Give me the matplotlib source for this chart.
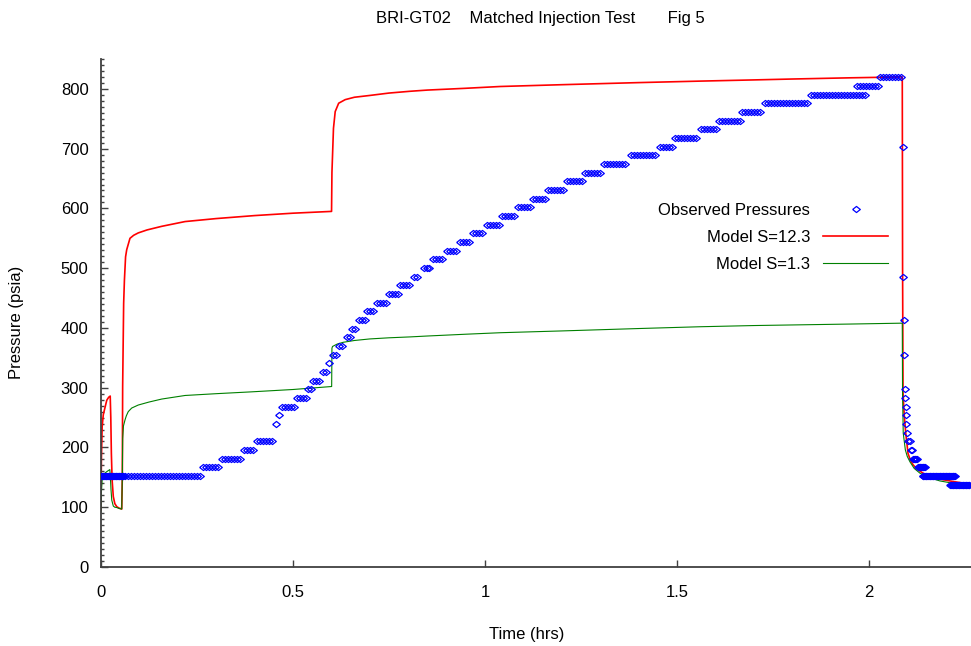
import numpy as np
import matplotlib
matplotlib.use("Agg")
import matplotlib.pyplot as plt
from matplotlib.ticker import MultipleLocator

plt.rcParams['font.family'] = ['Liberation Sans', 'DejaVu Sans']

# Observed gauge pressures come in 1-bar steps; each run is (level, start, end)
run_level = [152.3, 152.3, 166.8, 181.3, 195.8, 210.3, 239.3, 253.8, 268.3, 282.8,
             297.3, 311.8, 326.3, 340.8, 355.3, 369.8, 384.3, 398.8, 413.3, 427.8,
             442.3, 456.8, 471.3, 485.8, 500.3, 514.8, 529.3, 543.8, 558.3, 572.8,
             587.3, 601.8, 616.3, 630.8, 645.3, 659.8, 674.3, 688.8, 703.3, 717.8,
             732.3, 746.8, 761.3, 775.8, 790.3, 804.8, 819.3,
             181.3, 166.8, 152.3, 137.8]
run_start = [0.000, 0.062, 0.266, 0.315, 0.372, 0.406, 0.455, 0.464, 0.472, 0.510,
             0.538, 0.553, 0.578, 0.595, 0.603, 0.620, 0.640, 0.655, 0.673, 0.693,
             0.720, 0.750, 0.780, 0.815, 0.840, 0.865, 0.900, 0.935, 0.970, 1.005,
             1.045, 1.085, 1.125, 1.165, 1.215, 1.260, 1.310, 1.380, 1.455, 1.495,
             1.562, 1.610, 1.670, 1.730, 1.850, 1.970, 2.030,
             2.115, 2.128, 2.140, 2.212]
run_end = [0.058, 0.258, 0.310, 0.366, 0.400, 0.449, 0.455, 0.466, 0.505, 0.535,
           0.550, 0.575, 0.592, 0.600, 0.615, 0.635, 0.652, 0.670, 0.690, 0.715,
           0.745, 0.775, 0.810, 0.830, 0.860, 0.895, 0.930, 0.960, 1.000, 1.040,
           1.080, 1.120, 1.160, 1.210, 1.255, 1.305, 1.370, 1.447, 1.490, 1.556,
           1.605, 1.665, 1.720, 1.845, 1.995, 2.025, 2.088,
           2.125, 2.146, 2.225, 2.263]
run_dt = [0.002, 0.0078, 0.0078, 0.0078, 0.0078, 0.0078, 0.0078, 0.0078, 0.0078, 0.0078,
          0.0078, 0.0078, 0.0078, 0.0078, 0.0078, 0.0078, 0.0078, 0.0078, 0.0078, 0.0078,
          0.0078, 0.0078, 0.0078, 0.0078, 0.0078, 0.0078, 0.0078, 0.0078, 0.0078, 0.0078,
          0.0078, 0.0078, 0.0078, 0.0078, 0.0078, 0.0078, 0.0078, 0.0078, 0.0078, 0.0078,
          0.0078, 0.0078, 0.0078, 0.0078, 0.0078, 0.0078, 0.0078,
          0.002, 0.002, 0.002, 0.002]

# fast readings right after shut-in
fall_t = [2.088, 2.0893, 2.0903, 2.0915, 2.0935, 2.0945, 2.0955, 2.0965, 2.0975,
          2.099, 2.103, 2.107, 2.111, 2.113]
fall_p = [703.3, 485.8, 413.3, 355.3, 297.3, 282.8, 268.3, 253.8, 239.3,
          224.8, 210.3, 210.3, 195.8, 195.8]

# model S=12.3
s12_t = [0.0, 0.001, 0.003, 0.006, 0.009, 0.015, 0.020, 0.024, 0.0255, 0.027, 0.029,
         0.032, 0.036, 0.041, 0.047, 0.054, 0.0555, 0.0564, 0.059, 0.061, 0.064,
         0.067, 0.0755, 0.085, 0.097, 0.12, 0.158, 0.219, 0.30, 0.40, 0.50, 0.6005,
         0.6015, 0.6055, 0.610, 0.619, 0.636, 0.66, 0.70, 0.75, 0.805, 0.85, 0.90,
         0.95, 1.04, 1.20, 1.40, 1.56, 1.70, 1.80, 1.95, 2.087, 2.0878, 2.089, 2.092,
         2.096, 2.102, 2.108, 2.115, 2.127, 2.141, 2.16, 2.185, 2.22, 2.259]
s12_p = [95, 180, 235, 255, 263, 279, 284, 286, 250, 190, 145,
         118, 106, 101, 98.5, 97, 150, 302, 441, 480, 519,
         531, 550, 555, 559, 564, 570, 578, 583, 588, 592, 595,
         660, 734, 762, 776, 782, 786, 789, 793, 796, 798, 799.5,
         801, 804, 807, 810.5, 813, 815, 816.5, 818.5, 820, 500, 291, 255,
         224, 190, 179, 171, 163, 157, 152, 147, 143, 139]

# model S=1.3
s1_t = [0.0, 0.001, 0.003, 0.006, 0.010, 0.016, 0.023, 0.0245, 0.026, 0.028, 0.032,
        0.036, 0.041, 0.047, 0.054, 0.0555, 0.0565, 0.0585, 0.0625, 0.066, 0.071,
        0.08, 0.097, 0.125, 0.158, 0.219, 0.30, 0.39, 0.50, 0.6008, 0.6015, 0.603,
        0.615, 0.631, 0.66, 0.70, 0.75, 0.805, 0.85, 0.90, 0.95, 1.04, 1.20, 1.30,
        1.40, 1.56, 1.70, 1.80, 1.95, 2.087, 2.0877, 2.0895, 2.095, 2.100, 2.107,
        2.118, 2.133, 2.155, 2.185, 2.22, 2.259]
s1_p = [92, 125, 146, 152, 157, 160, 163, 150, 130, 112, 102,
        100, 99.5, 98, 97, 150, 215, 236, 246, 253, 260,
        266, 271, 276, 281, 287, 290, 293, 297, 302, 366, 369,
        373, 376, 379, 381.6, 383.5, 385, 386.5, 388, 389.5, 392, 395, 397,
        399, 402, 404, 405, 406.5, 408, 291,
        224, 196, 185, 176, 165, 157, 150, 144, 140, 137]

# build the observed record from the runs
obs_t, obs_p = [], []
for lvl, t0, t1, dt in zip(run_level, run_start, run_end, run_dt):
    ts = np.arange(t0, t1 + 1e-9, dt)
    obs_t.extend(ts)
    obs_p.extend([lvl] * len(ts))
obs_t.extend(fall_t)
obs_p.extend(fall_p)

# wide, short open diamond
diamond = [(-1.0, 0.0), (0.0, 0.8), (1.0, 0.0), (0.0, -0.8), (-1.0, 0.0)]

fig = plt.figure(figsize=(9.71, 6.46), dpi=100)
ax = fig.add_axes([101 / 971, 79 / 646, 870 / 971, 508 / 646])

ax.plot(obs_t, obs_p, linestyle='none', marker=diamond, markersize=5.5,
        markerfacecolor='none', markeredgecolor='#0000ff', markeredgewidth=0.9,
        label='Observed Pressures', zorder=3)
ax.plot(s12_t, s12_p, color='#ff0000', linewidth=1.2, label='Model S=12.3', zorder=2)
ax.plot(s1_t, s1_p, color='#008000', linewidth=0.8, label='Model S=1.3', zorder=2)

ax.set_xlim(0, 2.266)
ax.set_ylim(0, 850)
ax.xaxis.set_major_locator(MultipleLocator(0.5))
ax.yaxis.set_major_locator(MultipleLocator(100))
ax.yaxis.set_minor_locator(MultipleLocator(10))
ax.xaxis.set_major_formatter(plt.FuncFormatter(lambda v, _: f"{v:g}"))

for side in ('top', 'right'):
    ax.spines[side].set_visible(False)
for side in ('left', 'bottom'):
    ax.spines[side].set_color('#404040')
    ax.spines[side].set_linewidth(1.3)

ax.tick_params(axis='both', which='both', direction='in', colors='#404040',
               labelcolor='black', labelsize=12)
ax.tick_params(axis='both', which='major', length=5, width=1)
ax.tick_params(axis='y', which='minor', length=2.5, width=1)
ax.tick_params(axis='x', which='major', pad=13)
ax.tick_params(axis='y', which='major', pad=9)

leg = ax.legend(loc='upper right', bbox_to_anchor=(0.905, 0.717), frameon=False,
                markerfirst=False, numpoints=1, fontsize=12, handlelength=3.9,
                handletextpad=0.8, labelspacing=0.72, borderpad=0, borderaxespad=0)
for txt in leg.get_texts():
    txt.set_ha('right')

fig.text(540 / 971, 1 - 18 / 646, 'BRI-GT02    Matched Injection Test       Fig 5',
         ha='center', va='center', fontsize=12)
fig.text(17 / 971, 1 - 322 / 646, 'Pressure (psia)', rotation=90,
         ha='center', va='center', fontsize=12)
fig.text(527 / 971, 1 - 635 / 646, 'Time (hrs)', ha='center', va='center', fontsize=12)

fig.savefig('out.png', dpi=100)
